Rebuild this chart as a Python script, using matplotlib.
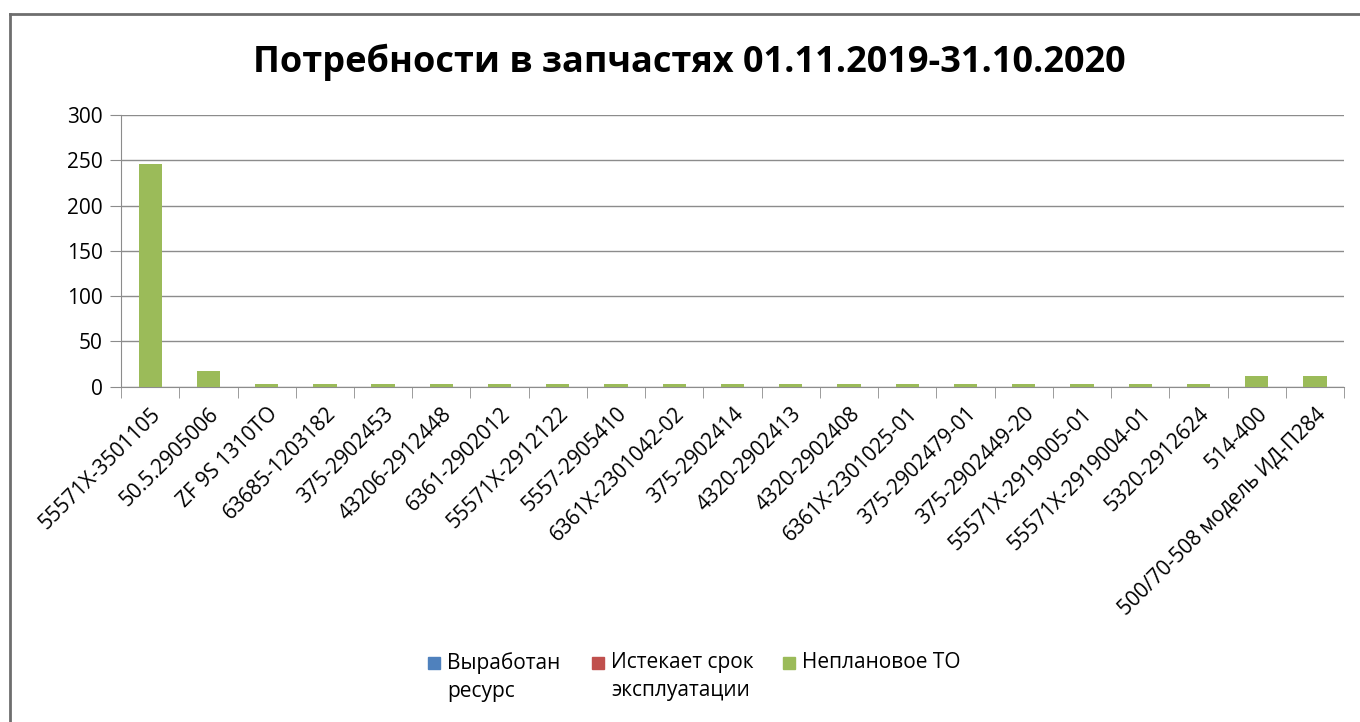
import numpy as np
import matplotlib.pyplot as plt
from matplotlib.lines import Line2D
from matplotlib.patches import Rectangle

plt.rcParams['font.family'] = ['Open Sans', 'DejaVu Sans']

# Позиции и потребность по причинам
детали = ['55571X-3501105', '50.5.2905006', 'ZF 9S 1310TO', '63685-1203182',
          '375-2902453', '43206-2912448', '6361-2902012', '55571X-2912122',
          '5557-2905410', '6361X-2301042-02', '375-2902414', '4320-2902413',
          '4320-2902408', '6361X-2301025-01', '375-2902479-01', '375-2902449-20',
          '55571X-2919005-01', '55571X-2919004-01', '5320-2912624', '514-400',
          '500/70-508 модель ИД-П284']
выработан = [0] * 21
истекает = [0] * 21
внеплановое = [246, 17, 3, 3, 3, 3, 3, 3, 3, 3, 3, 3, 3, 3, 3, 3, 3, 3, 3, 12, 12]
серии = ['Выработан\nресурс', 'Истекает срок\nэксплуатации', 'Неплановое ТО']
цвета = ['#4F81BD', '#C0504D', '#9BBB59']

W, H = 1360, 722
fig = plt.figure(figsize=(W / 100, H / 100), dpi=100)
ax = fig.add_axes([0.089, 0.4644, 0.8993, 0.3763])

x = np.arange(len(детали))
низ = np.zeros(len(детали))
for vals, c in zip([выработан, истекает, внеплановое], цвета):
    ax.bar(x, vals, width=0.4, bottom=низ, color=c, zorder=3)
    низ += np.array(vals)

ax.set_xlim(-0.5, len(детали) - 0.5)
ax.set_ylim(0, 300)
ax.set_yticks(range(0, 301, 50))
ax.grid(axis='y', color='#8c8c8c', linewidth=1)
for s in ['top', 'right']:
    ax.spines[s].set_visible(False)
for s in ['left', 'bottom']:
    ax.spines[s].set_color('#8c8c8c')
ax.tick_params(axis='y', length=8, color='#8c8c8c', labelsize=15, pad=5)

ax.set_xticks(x)
ax.set_xticklabels(детали, rotation=45, ha='right', rotation_mode='anchor', fontsize=15)
ax.tick_params(axis='x', length=0, pad=12)
ax.set_xticks(np.arange(-0.5, len(детали)), minor=True)
ax.tick_params(axis='x', which='minor', length=8, color='#8c8c8c')

fig.text(0.507, 1 - 62 / H, 'Потребности в запчастях 01.11.2019-31.10.2020',
         ha='center', va='center', fontsize=26, fontweight='bold')

# легенда: квадрат по первой строке подписи
for name, c, x0 in zip(серии, цвета, [428, 592, 783]):
    fig.add_artist(Rectangle((x0 / W, 1 - 669 / H), 12 / W, 12 / H,
                             color=c, transform=fig.transFigure))
    fig.text((x0 + 19) / W, 1 - 652 / H, name, ha='left', va='top',
             fontsize=15, linespacing=1.45)

# рамка области диаграммы
fig.add_artist(Line2D([10 / W, 1], [1 - 14 / H] * 2, color='#6e6e6e', lw=2))
fig.add_artist(Line2D([10 / W] * 2, [0, 1 - 14 / H], color='#6e6e6e', lw=2))

fig.savefig('out.png', dpi=100)
